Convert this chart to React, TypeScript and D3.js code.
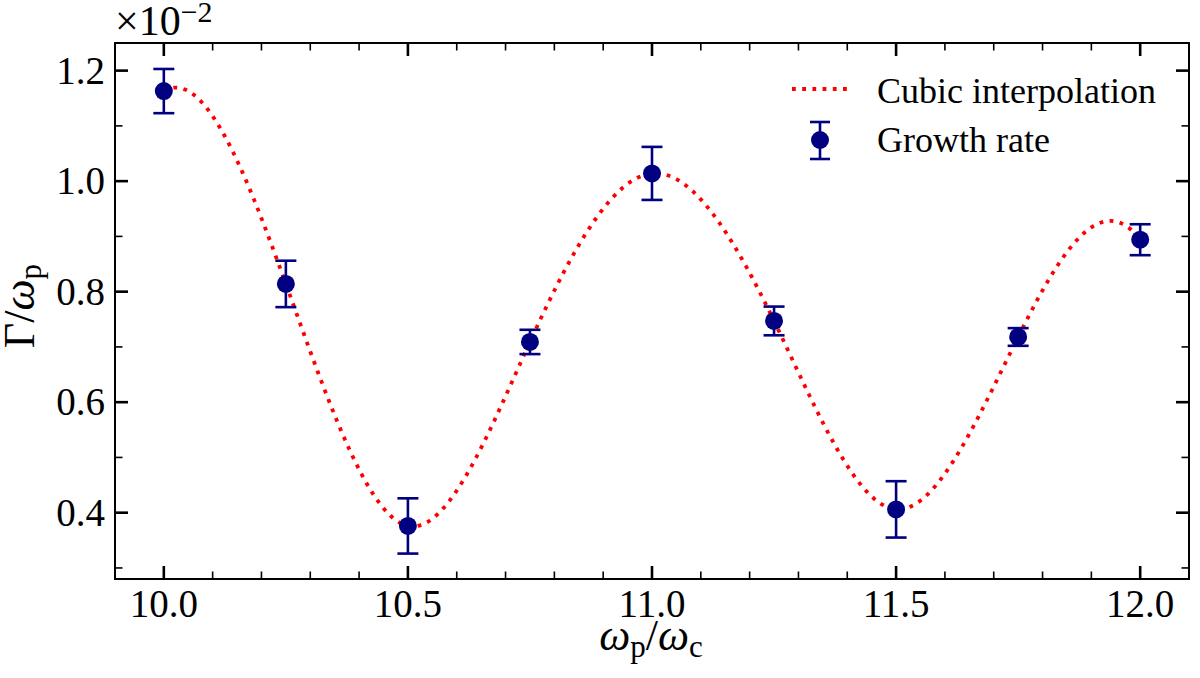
import React from "react";
import * as d3 from "d3";

const xValues = [10.0, 10.25, 10.5, 10.75, 11.0, 11.25, 11.5, 11.75, 12.0];
const growthRate = [1.163, 0.814, 0.376, 0.709, 1.014, 0.747, 0.406, 0.718, 0.894];
const growthErr = [0.04, 0.042, 0.05, 0.022, 0.048, 0.026, 0.051, 0.016, 0.028];
const xTicks = [10.0, 10.5, 11.0, 11.5, 12.0];
const xMinorTicks = [9.9, 10.1, 10.2, 10.3, 10.4, 10.6, 10.7, 10.8, 10.9, 11.1, 11.2, 11.3, 11.4, 11.6, 11.7, 11.8, 11.9, 12.1];
const yTicks = [0.4, 0.6, 0.8, 1.0, 1.2];
const yMinorTicks = [0.3, 0.5, 0.7, 0.9, 1.1];

// not-a-knot cubic spline (like scipy interp1d kind='cubic')
function cubicSpline(xs: number[], ys: number[]) {
  const n = xs.length;
  const h: number[] = [];
  for (let i = 0; i < n - 1; i++) h.push(xs[i + 1] - xs[i]);
  const A: number[][] = Array.from({ length: n }, () => new Array(n).fill(0));
  const b: number[] = new Array(n).fill(0);
  A[0][0] = h[1];
  A[0][1] = -(h[0] + h[1]);
  A[0][2] = h[0];
  for (let i = 1; i < n - 1; i++) {
    A[i][i - 1] = h[i - 1];
    A[i][i] = 2 * (h[i - 1] + h[i]);
    A[i][i + 1] = h[i];
    b[i] = 6 * ((ys[i + 1] - ys[i]) / h[i] - (ys[i] - ys[i - 1]) / h[i - 1]);
  }
  A[n - 1][n - 3] = h[n - 2];
  A[n - 1][n - 2] = -(h[n - 3] + h[n - 2]);
  A[n - 1][n - 1] = h[n - 3];
  for (let c = 0; c < n; c++) {
    let p = c;
    for (let r = c + 1; r < n; r++) if (Math.abs(A[r][c]) > Math.abs(A[p][c])) p = r;
    [A[c], A[p]] = [A[p], A[c]];
    [b[c], b[p]] = [b[p], b[c]];
    for (let r = c + 1; r < n; r++) {
      const f = A[r][c] / A[c][c];
      for (let k = c; k < n; k++) A[r][k] -= f * A[c][k];
      b[r] -= f * b[c];
    }
  }
  const M = new Array(n).fill(0);
  for (let r = n - 1; r >= 0; r--) {
    let s = b[r];
    for (let k = r + 1; k < n; k++) s -= A[r][k] * M[k];
    M[r] = s / A[r][r];
  }
  return (x: number) => {
    let i = 0;
    while (i < n - 2 && x > xs[i + 1]) i++;
    const hi = h[i];
    const a = xs[i + 1] - x;
    const bb = x - xs[i];
    return (
      (M[i] * a * a * a) / (6 * hi) +
      (M[i + 1] * bb * bb * bb) / (6 * hi) +
      (ys[i] / hi - (M[i] * hi) / 6) * a +
      (ys[i + 1] / hi - (M[i + 1] * hi) / 6) * bb
    );
  };
}

const W = 1200;
const H = 678;
const left = 115;
const right = 1189;
const top = 43;
const bottom = 579;
const FONT = "Liberation Serif, Times New Roman, DejaVu Serif, serif";
const NAVY = "#000080";
const TS: React.CSSProperties = { fontFamily: FONT };

export default function App() {
  const x = d3.scaleLinear().domain([9.9, 12.1]).range([left, right]);
  const y = d3.scaleLinear().domain([0.28, 1.25]).range([bottom, top]);
  const spline = cubicSpline(xValues, growthRate);
  const fine = d3.range(0, 401).map((i) => {
    const xv = xValues[0] + (i / 400) * (xValues[xValues.length - 1] - xValues[0]);
    return [xv, spline(xv)] as [number, number];
  });
  const line = d3
    .line<[number, number]>()
    .x((d) => x(d[0]))
    .y((d) => y(d[1]));

  const capW = 10.5;
  const majorLen = 13;
  const minorLen = 7.5;

  return (
    <svg
      width={W}
      height={H}
      style={{ position: "absolute", left: 0, top: 0, background: "#fff", fontFamily: FONT }}
    >
      <path
        d={line(fine) || ""}
        fill="none"
        stroke="#ff0000"
        strokeWidth={3.8}
        strokeDasharray="3.8 6.4"
      />
      {xValues.map((xv, i) => {
        const cx = x(xv);
        const y1 = y(growthRate[i] + growthErr[i]);
        const y2 = y(growthRate[i] - growthErr[i]);
        return (
          <g key={i} stroke={NAVY} strokeWidth={2.6}>
            <line x1={cx} x2={cx} y1={y1} y2={y2} />
            <line x1={cx - capW} x2={cx + capW} y1={y1} y2={y1} />
            <line x1={cx - capW} x2={cx + capW} y1={y2} y2={y2} />
            <circle cx={cx} cy={y(growthRate[i])} r={9} fill={NAVY} stroke="none" />
          </g>
        );
      })}
      <rect
        x={left}
        y={top}
        width={right - left}
        height={bottom - top}
        fill="none"
        stroke="#000"
        strokeWidth={2}
      />
      {xTicks.map((t) => (
        <g key={"xt" + t} stroke="#000" strokeWidth={2.6}>
          <line x1={x(t)} x2={x(t)} y1={bottom} y2={bottom - majorLen} />
          <line x1={x(t)} x2={x(t)} y1={top} y2={top + majorLen} />
        </g>
      ))}
      {xMinorTicks.map((t) => (
        <g key={"xm" + t} stroke="#000" strokeWidth={1.6}>
          <line x1={x(t)} x2={x(t)} y1={bottom} y2={bottom - minorLen} />
          <line x1={x(t)} x2={x(t)} y1={top} y2={top + minorLen} />
        </g>
      ))}
      {xTicks.map((t) => (
        <text key={"xl" + t} style={TS} x={x(t)} y={617} fontSize={39} textAnchor="middle" fill="#000">
          {t.toFixed(1)}
        </text>
      ))}
      {yTicks.map((t) => (
        <g key={"yt" + t} stroke="#000" strokeWidth={2.6}>
          <line x1={left} x2={left + majorLen} y1={y(t)} y2={y(t)} />
          <line x1={right} x2={right - majorLen} y1={y(t)} y2={y(t)} />
        </g>
      ))}
      {yMinorTicks.map((t) => (
        <g key={"ym" + t} stroke="#000" strokeWidth={1.6}>
          <line x1={left} x2={left + minorLen} y1={y(t)} y2={y(t)} />
          <line x1={right} x2={right - minorLen} y1={y(t)} y2={y(t)} />
        </g>
      ))}
      {yTicks.map((t) => (
        <text key={"yl" + t} style={TS} x={105} y={y(t) + 13} fontSize={39} textAnchor="end" fill="#000">
          {t.toFixed(1)}
        </text>
      ))}
      <text style={TS} x={115} y={35} fontSize={42} fill="#000">
        ×10
        <tspan fontSize={30} dy={-13}>
          −2
        </tspan>
      </text>
      <text style={TS} x={651} y={650} fontSize={44} textAnchor="middle" fill="#000">
        <tspan fontStyle="italic">ω</tspan>
        <tspan fontSize={31} dy={7}>p</tspan>
        <tspan dy={-7}>/</tspan>
        <tspan fontStyle="italic">ω</tspan>
        <tspan fontSize={31} dy={7}>c</tspan>
      </text>
      <text
        style={TS}
        transform="translate(34,306) rotate(-90)"
        fontSize={44}
        textAnchor="middle"
        fill="#000"
      >
        Γ/<tspan fontStyle="italic">ω</tspan>
        <tspan fontSize={31} dy={7}>p</tspan>
      </text>
      <line
        x1={792}
        x2={850}
        y1={89}
        y2={89}
        stroke="#ff0000"
        strokeWidth={3.8}
        strokeDasharray="3.8 6.4"
      />
      <text style={TS} x={877} y={103} fontSize={36} fill="#000">
        Cubic interpolation
      </text>
      <g stroke={NAVY} strokeWidth={2.6}>
        <line x1={820} x2={820} y1={122} y2={159} />
        <line x1={810} x2={830} y1={122} y2={122} />
        <line x1={810} x2={830} y1={159} y2={159} />
        <circle cx={820} cy={140} r={9} fill={NAVY} stroke="none" />
      </g>
      <text style={TS} x={877} y={152} fontSize={36} fill="#000">
        Growth rate
      </text>
    </svg>
  );
}
